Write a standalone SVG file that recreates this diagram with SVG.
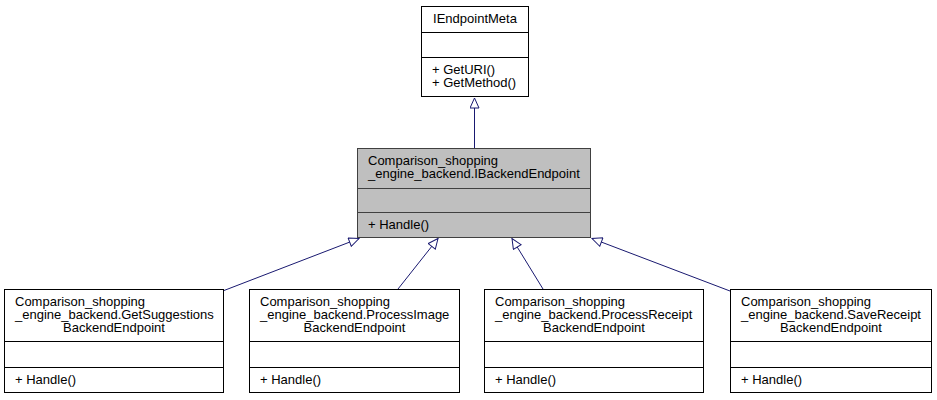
<svg xmlns="http://www.w3.org/2000/svg" width="937" height="400" viewBox="0 0 937 400">
<style>
  .box { fill: #ffffff; stroke: #000000; stroke-width: 1; }
  .hl { fill: #bfbfbf; stroke: #404040; stroke-width: 1; }
  .sep { stroke: #000000; stroke-width: 1; }
  .hlsep { stroke: #404040; stroke-width: 1; }
  text { font-family: "Liberation Sans", Arial, Helvetica, sans-serif; font-size: 13px; fill: #000000; }
  .c { text-anchor: middle; }
  .edge { fill: none; stroke: #191970; stroke-width: 1; marker-end: url(#tri); }
</style>
<defs>
  <marker id="tri" viewBox="0 0 12 10" refX="11" refY="5" markerWidth="12" markerHeight="10" markerUnits="userSpaceOnUse" orient="auto">
    <path d="M1,0.5 L11,5 L1,9.5 Z" fill="#ffffff" stroke="#191970" stroke-width="1"/>
  </marker>
</defs>
<rect width="937" height="400" fill="#ffffff"/>

<g id="edges">
  <path class="edge" d="M474.5,148 L474.5,98"/>
  <path class="edge" d="M224,290.5 L359,238.5"/>
  <path class="edge" d="M398,289 L438,238.5"/>
  <path class="edge" d="M543,289 L512,238.5"/>
  <path class="edge" d="M730,291 L592,238.5"/>
</g>

<g id="IEndpointMeta">
  <rect class="box" x="421.5" y="6.5" width="107" height="90"/>
  <line class="sep" x1="421.5" y1="32.5" x2="528.5" y2="32.5"/>
  <line class="sep" x1="421.5" y1="57.5" x2="528.5" y2="57.5"/>
  <text class="c" x="475" y="23">IEndpointMeta</text>
  <text x="432" y="74">+ GetURI()</text>
  <text x="432" y="87">+ GetMethod()</text>
</g>

<g id="IBackendEndpoint">
  <rect class="hl" x="357.5" y="148.5" width="233" height="89"/>
  <line class="hlsep" x1="357.5" y1="188.5" x2="590.5" y2="188.5"/>
  <line class="hlsep" x1="357.5" y1="212.5" x2="590.5" y2="212.5"/>
  <text x="368" y="165">Comparison_shopping</text>
  <text x="368" y="178">_engine_backend.IBackendEndpoint</text>
  <text x="368" y="229">+ Handle()</text>
</g>

<g id="GetSuggestionsBackendEndpoint">
  <rect class="box" x="4.5" y="289.5" width="219" height="103"/>
  <line class="sep" x1="4.5" y1="341.5" x2="223.5" y2="341.5"/>
  <line class="sep" x1="4.5" y1="367.5" x2="223.5" y2="367.5"/>
  <text x="15" y="306">Comparison_shopping</text>
  <text x="15" y="319">_engine_backend.GetSuggestions</text>
  <text class="c" x="114" y="332">BackendEndpoint</text>
  <text x="15" y="384">+ Handle()</text>
</g>

<g id="ProcessImageBackendEndpoint">
  <rect class="box" x="249.5" y="289.5" width="210" height="103"/>
  <line class="sep" x1="249.5" y1="341.5" x2="459.5" y2="341.5"/>
  <line class="sep" x1="249.5" y1="367.5" x2="459.5" y2="367.5"/>
  <text x="260" y="306">Comparison_shopping</text>
  <text x="260" y="319">_engine_backend.ProcessImage</text>
  <text class="c" x="354.5" y="332">BackendEndpoint</text>
  <text x="260" y="384">+ Handle()</text>
</g>

<g id="ProcessReceiptBackendEndpoint">
  <rect class="box" x="484.5" y="289.5" width="219" height="103"/>
  <line class="sep" x1="484.5" y1="341.5" x2="703.5" y2="341.5"/>
  <line class="sep" x1="484.5" y1="367.5" x2="703.5" y2="367.5"/>
  <text x="495" y="306">Comparison_shopping</text>
  <text x="495" y="319">_engine_backend.ProcessReceipt</text>
  <text class="c" x="594" y="332">BackendEndpoint</text>
  <text x="495" y="384">+ Handle()</text>
</g>

<g id="SaveReceiptBackendEndpoint">
  <rect class="box" x="730.5" y="289.5" width="201" height="103"/>
  <line class="sep" x1="730.5" y1="341.5" x2="931.5" y2="341.5"/>
  <line class="sep" x1="730.5" y1="367.5" x2="931.5" y2="367.5"/>
  <text x="741" y="306">Comparison_shopping</text>
  <text x="741" y="319">_engine_backend.SaveReceipt</text>
  <text class="c" x="831" y="332">BackendEndpoint</text>
  <text x="741" y="384">+ Handle()</text>
</g>
</svg>
